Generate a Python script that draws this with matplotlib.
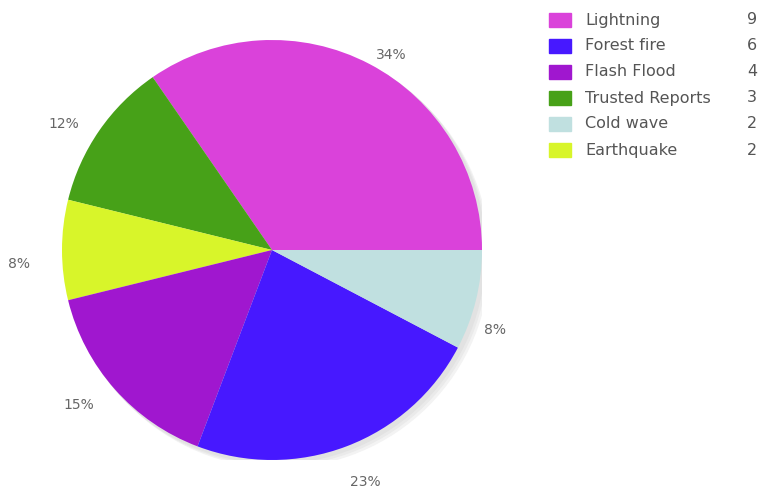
import matplotlib
matplotlib.use('Agg')
import matplotlib.pyplot as plt
from matplotlib.patches import Circle, Rectangle

# legend order (sorted by count)
categories = ['Lightning', 'Forest fire', 'Flash Flood', 'Trusted Reports', 'Cold wave', 'Earthquake']
counts = [9, 6, 4, 3, 2, 2]
colors = ['#DA42DA', '#4718FF', '#A017CF', '#47A118', '#C0E0E0', '#D8F52A']

# order the slices are drawn in, counter-clockwise from 3 o'clock
pie_order = ['Lightning', 'Trusted Reports', 'Earthquake', 'Flash Flood', 'Forest fire', 'Cold wave']
# percent labels as shown on the chart
pct_labels = ['34%', '12%', '8%', '15%', '23%', '8%']

W, H = 761, 486
fig = plt.figure(figsize=(W / 100, H / 100), dpi=100)

cx, cy, r = 272, 250, 210
ax = fig.add_axes([(cx - r) / W, (H - cy - r) / H, 2 * r / W, 2 * r / H])

# soft shadow
for off, col in [(0.035, '#f3f3f3'), (0.025, '#eaeaea'), (0.015, '#e2e2e2')]:
    ax.add_patch(Circle((off, -off), 1.0, color=col, zorder=0))

idx = [categories.index(c) for c in pie_order]
vals = [counts[i] for i in idx]
cols = [colors[i] for i in idx]

wedges, texts = ax.pie(vals, colors=cols, startangle=0, counterclock=True,
                       labels=pct_labels, labeldistance=1.12, radius=1.0,
                       wedgeprops=dict(linewidth=0),
                       textprops=dict(color='#666666', fontsize=10))
for w in wedges:
    w.set_zorder(2)

# nudge labels to where the original chart puts them
label_xy = [(0.567, 0.929), (-0.990, 0.600), (-1.205, -0.067),
            (-0.919, -0.738), (0.443, -1.105), (1.062, -0.381)]
for t, (x, y) in zip(texts, label_xy):
    t.set_position((x, y))
    t.set_ha('center')
    t.set_va('center')

ax.set_xlim(-1, 1)
ax.set_ylim(-1, 1)
ax.set_aspect('equal')
ax.axis('off')

# legend drawn by hand
for k, (name, val, col) in enumerate(zip(categories, counts, colors)):
    y = 20 + k * 26
    fig.patches.append(Rectangle((549 / W, 1 - (y + 7) / H), 22 / W, 14 / H,
                                 transform=fig.transFigure, color=col, figure=fig))
    fig.text(585 / W, 1 - y / H, name, color='#555555', fontsize=11.5, va='center', ha='left')
    fig.text(757 / W, 1 - y / H, str(val), color='#555555', fontsize=11.5, va='center', ha='right')

fig.savefig('out.png', dpi=100, facecolor='white')
